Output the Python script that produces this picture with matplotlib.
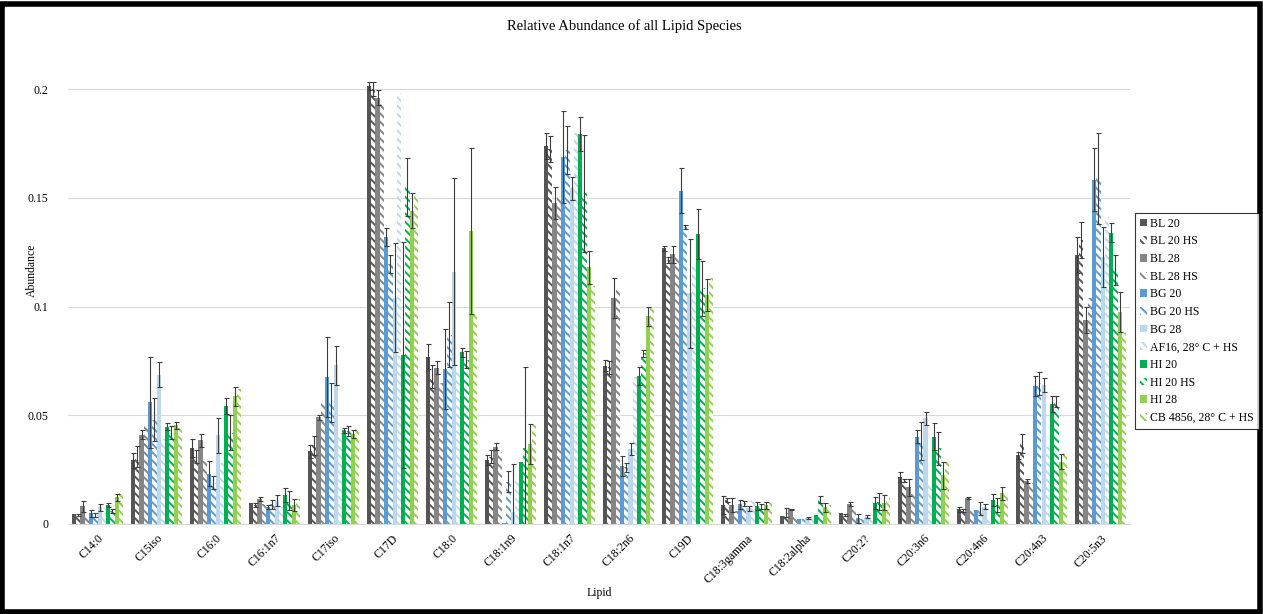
import numpy as np
import matplotlib
matplotlib.use("Agg")
import matplotlib.pyplot as plt
from matplotlib.patches import Rectangle

plt.rcParams['font.family'] = ['Liberation Serif', 'DejaVu Serif']
plt.rcParams['hatch.linewidth'] = 1.4

lipids = ["C14:0", "C15iso", "C16:0", "C16:1n7", "C17iso", "C17D", "C18:0",
          "C18:1n9", "C18:1n7", "C18:2n6", "C19D", "C18:3gamma", "C18:2alpha",
          "C20:2?", "C20:3n6", "C20:4n6", "C20:4n3", "C20:5n3"]

bl20 = [0.0046, 0.0293, 0.035, 0.0098, 0.0334, 0.2014, 0.0769, 0.0294, 0.1738,
        0.0728, 0.1267, 0.0087, 0.0037, 0.0052, 0.0215, 0.0067, 0.0317, 0.1237]
bl20_err = [0.0, 0.0035, 0.004, 0.0, 0.003, 0.002, 0.0057, 0.0023, 0.0058,
            0.0026, 0.0013, 0.004, 0.0, 0.0, 0.0023, 0.001, 0.0016, 0.0081]

bl20_hs = [0.004, 0.031, 0.031, 0.0088, 0.036, 0.200, 0.0677, 0.031, 0.1725,
           0.072, 0.1214, 0.011, 0.0052, 0.0041, 0.020, 0.0061, 0.0371, 0.1306]
bl20_hs_err = [0.0005, 0.005, 0.003, 0.001, 0.0045, 0.003, 0.0053, 0.003, 0.006,
               0.003, 0.0015, 0.001, 0.002, 0.0005, 0.0005, 0.0008, 0.0043, 0.0084]

bl28 = [0.0081, 0.041, 0.0384, 0.0114, 0.049, 0.196, 0.0719, 0.0356, 0.1477,
        0.1038, 0.124, 0.0087, 0.0067, 0.0092, 0.0169, 0.0118, 0.0199, 0.0938]
bl28_err = [0.0025, 0.002, 0.0031, 0.0008, 0.001, 0.0035, 0.0031, 0.0015, 0.0073,
            0.0092, 0.004, 0.0031, 0.0002, 0.001, 0.0038, 0.0005, 0.001, 0.0061]

bl28_hs = [0.003, 0.0457, 0.029, 0.009, 0.0564, 0.1934, 0.0647, 0.033, 0.151,
           0.1076, 0.123, 0.006, 0.0041, 0.0072, 0.014, 0.0072, 0.0187, 0.104]
bl28_hs_err = [0.0] * 18

bg20 = [0.0049, 0.056, 0.0232, 0.0079, 0.0675, 0.1318, 0.0713, 0.0006, 0.1689,
        0.0267, 0.1533, 0.009, 0.0021, 0.0026, 0.0402, 0.0064, 0.0634, 0.1582]
bg20_err = [0.0015, 0.021, 0.0058, 0.0009, 0.0183, 0.0042, 0.0184, 0.0, 0.0211,
            0.0047, 0.0102, 0.002, 0.0, 0.002, 0.003, 0.0, 0.0046, 0.0145]

bg20_hs = [0.004, 0.048, 0.019, 0.0091, 0.056, 0.1195, 0.087, 0.0195, 0.172,
           0.026, 0.1367, 0.0095, 0.0021, 0.0021, 0.038, 0.0072, 0.0647, 0.159]
bg20_hs_err = [0.001, 0.010, 0.003, 0.002, 0.009, 0.004, 0.015, 0.005, 0.011,
               0.002, 0.001, 0.001, 0.0, 0.0, 0.0087, 0.003, 0.0053, 0.021]

bg28 = [0.0076, 0.0686, 0.0407, 0.0108, 0.073, 0.104, 0.116, 0.0057, 0.1543,
        0.0345, 0.106, 0.0072, 0.0026, 0.0034, 0.0486, 0.008, 0.0639, 0.1229]
bg28_err = [0.0017, 0.0058, 0.0081, 0.0026, 0.009, 0.025, 0.043, 0.022, 0.0054,
            0.0026, 0.025, 0.001, 0.0005, 0.0008, 0.003, 0.0012, 0.0034, 0.0138]

af16 = [0.005, 0.039, 0.028, 0.0076, 0.042, 0.198, 0.07, 0.021, 0.1796,
        0.0677, 0.118, 0.011, 0.0026, 0.004, 0.0187, 0.0034, 0.0356, 0.1413]
af16_err = [0.0] * 18

hi20 = [0.0088, 0.0448, 0.0544, 0.0133, 0.043, 0.0777, 0.079, 0.0287, 0.1793,
        0.068, 0.1333, 0.0083, 0.0041, 0.0095, 0.0402, 0.011, 0.0552, 0.134]
hi20_err = [0.001, 0.0018, 0.0036, 0.0032, 0.001, 0.052, 0.002, 0.0, 0.0077,
            0.0043, 0.0114, 0.002, 0.0, 0.0028, 0.0064, 0.0028, 0.0037, 0.0045]

hi20_hs = [0.0061, 0.042, 0.042, 0.0107, 0.0427, 0.155, 0.0755, 0.035, 0.152,
           0.0785, 0.1083, 0.008, 0.0113, 0.0103, 0.0348, 0.0087, 0.0562, 0.1168]
hi20_hs_err = [0.001, 0.003, 0.008, 0.0043, 0.0023, 0.0135, 0.004, 0.037, 0.027,
               0.0015, 0.0127, 0.001, 0.0016, 0.0038, 0.0076, 0.0031, 0.0025, 0.0069]

hi28 = [0.0122, 0.0453, 0.0587, 0.0087, 0.0415, 0.144, 0.1347, 0.0368, 0.118,
        0.0956, 0.1053, 0.0087, 0.0077, 0.0098, 0.0225, 0.0141, 0.0287, 0.0976]
hi28_err = [0.0015, 0.0017, 0.0043, 0.0027, 0.0018, 0.008, 0.038, 0.0092, 0.0077,
            0.0044, 0.0073, 0.0016, 0.002, 0.0035, 0.0062, 0.0031, 0.0035, 0.0092]

cb4856 = [0.0142, 0.044, 0.062, 0.0117, 0.0437, 0.151, 0.0973, 0.0455, 0.1094,
          0.0992, 0.113, 0.0095, 0.0087, 0.0118, 0.0287, 0.0149, 0.0325, 0.0877]
cb4856_err = [0.0] * 18

labels = ["BL 20", "BL 20 HS", "BL 28", "BL 28 HS", "BG 20", "BG 20 HS", "BG 28",
          "AF16, 28\u00b0 C + HS", "HI 20", "HI 20 HS", "HI 28", "CB 4856, 28\u00b0 C + HS"]
values = [bl20, bl20_hs, bl28, bl28_hs, bg20, bg20_hs, bg28, af16,
          hi20, hi20_hs, hi28, cb4856]
errors = [bl20_err, bl20_hs_err, bl28_err, bl28_hs_err, bg20_err, bg20_hs_err,
          bg28_err, af16_err, hi20_err, hi20_hs_err, hi28_err, cb4856_err]
colors = ["#555555", "#555555", "#858585", "#858585", "#5b9bd5", "#5b9bd5",
          "#bdd7ee", "#bdd7ee", "#00b050", "#00b050", "#92d050", "#92d050"]
hatched = [False, True] * 6

fig = plt.figure(figsize=(12.63, 6.14), dpi=100)
ax = fig.add_axes([68 / 1263, 1 - 524 / 614, (1130 - 68) / 1263, (524 - 67.25) / 614])

x = np.arange(len(lipids))
n = len(values)
w = 0.87 / n
handles = []
for i in range(n):
    pos = x - 0.435 + w * (i + 0.5)
    if hatched[i]:
        b = ax.bar(pos, values[i], w, facecolor="white", edgecolor=colors[i],
                   hatch="\\\\\\\\", linewidth=0, zorder=2)
    else:
        b = ax.bar(pos, values[i], w, color=colors[i], linewidth=0, zorder=2)
    handles.append(b)
    err = np.array(errors[i])
    m = err > 0
    if m.any():
        ax.errorbar(pos[m], np.array(values[i])[m], yerr=err[m], fmt="none",
                    ecolor="#3c3c3c", elinewidth=0.8, capsize=1.8, capthick=0.8,
                    zorder=3)

ax.set_xlim(-0.5, len(lipids) - 0.5)
ax.set_ylim(0, 0.21)
ax.set_yticks([0, 0.05, 0.1, 0.15, 0.2])
ax.set_yticklabels(["0", "0.05", "0.1", "0.15", "0.2"], fontsize=8.5)
ax.set_xticks(x)
ax.set_xticklabels(lipids, rotation=45, ha="right", va="top",
                   rotation_mode="anchor", fontsize=8.5)
ax.tick_params(length=0, pad=6)
ax.tick_params(axis="y", pad=14)
ax.grid(axis="y", color="#d9d9d9", linewidth=0.8, zorder=0)
ax.set_axisbelow(True)
for s in ["top", "right", "left"]:
    ax.spines[s].set_visible(False)
ax.spines["bottom"].set_color("#d9d9d9")
ax.spines["bottom"].set_linewidth(0.8)

fig.text(624 / 1263, 1 - 26 / 614, "Relative Abundance of all Lipid Species",
         ha="center", va="center", fontsize=10.5)
fig.text(599 / 1263, 1 - 593 / 614, "Lipid", ha="center", va="center", fontsize=8.5)
fig.text(32 / 1263, 1 - 270 / 614, "Abundance", ha="center", va="center",
         rotation=90, fontsize=8.5)

leg = fig.legend(handles, labels, loc="upper left",
                 bbox_to_anchor=(1135 / 1263, 1 - 213 / 614),
                 bbox_transform=fig.transFigure, fontsize=8.5, frameon=True,
                 fancybox=False, handlelength=0.6, handleheight=0.6,
                 handletextpad=0.3, labelspacing=0.48, borderpad=0.4,
                 borderaxespad=0)
leg.get_frame().set_edgecolor("black")
leg.get_frame().set_linewidth(0.8)

fig.patches.append(Rectangle((2 / 1263, 2 / 614), 1 - 5 / 1263, 1 - 6 / 614,
                             transform=fig.transFigure, fill=False,
                             edgecolor="black", linewidth=4))

fig.savefig("out.png", dpi=100, facecolor="white")
